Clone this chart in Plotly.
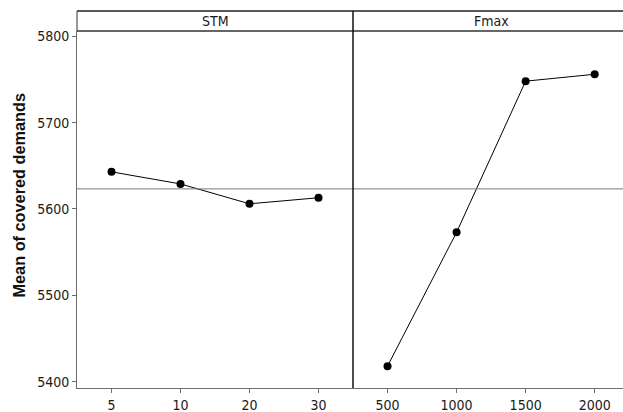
import plotly.graph_objects as go

# Data
stm_levels = ["5", "10", "20", "30"]
stm_means = [5643, 5629, 5606, 5613]
fmax_levels = ["500", "1000", "1500", "2000"]
fmax_means = [5418, 5573, 5748, 5756]
panel_titles = ["STM", "Fmax"]
y_ticks = [5400, 5500, 5600, 5700, 5800]
y_title = "Mean of covered demands"

grand_mean = (sum(stm_means) + sum(fmax_means)) / (len(stm_means) + len(fmax_means))

W, H = 623, 412
ml, mr, mt, mb = 77, 0, 11, 24
plot_w = W - ml - mr
plot_h = H - mt - mb
strip_h = 20
ydom_top = (plot_h - strip_h) / plot_h
split = 276 / plot_w

tick_font = dict(family="DejaVu Sans Condensed, DejaVu Sans", size=14, color="#1a1a1a")
axis_col = "#6e6e6e"

fig = go.Figure()
fig.add_trace(go.Scatter(x=stm_levels, y=stm_means, xaxis="x", yaxis="y",
                         mode="lines+markers",
                         line=dict(color="black", width=1),
                         marker=dict(color="black", size=8),
                         showlegend=False))
fig.add_trace(go.Scatter(x=fmax_levels, y=fmax_means, xaxis="x2", yaxis="y",
                         mode="lines+markers",
                         line=dict(color="black", width=1),
                         marker=dict(color="black", size=8),
                         showlegend=False))

common_x = dict(type="category", showgrid=False, zeroline=False,
                showline=True, linecolor=axis_col, linewidth=1,
                ticks="outside", ticklen=4, tickcolor=axis_col,
                tickfont=tick_font, anchor="y", automargin=False)

fig.update_layout(
    width=W, height=H,
    margin=dict(l=ml, r=mr, t=mt, b=mb, autoexpand=False),
    paper_bgcolor="white", plot_bgcolor="white",
    xaxis=dict(domain=[0, split], range=[-0.5, 3.5], **common_x),
    xaxis2=dict(domain=[split, 1], range=[-0.5, 3.41], **common_x),
    yaxis=dict(domain=[0, ydom_top], range=[5392.7, 5806.1],
               tickvals=y_ticks, showgrid=False, zeroline=False,
               showline=True, linecolor=axis_col, linewidth=1,
               ticks="outside", ticklen=4, tickcolor=axis_col,
               tickfont=tick_font, automargin=False),
)

shapes = []
# grand mean reference line across both panels
shapes.append(dict(type="line", xref="paper", yref="y", x0=0, x1=1,
                   y0=grand_mean, y1=grand_mean,
                   line=dict(color="#7a7a7a", width=1)))
# strip header box
shapes.append(dict(type="line", xref="paper", yref="paper", x0=0, x1=1.02,
                   y0=1, y1=1, line=dict(color="#222222", width=1.5)))
shapes.append(dict(type="line", xref="paper", yref="paper", x0=0, x1=1.02,
                   y0=ydom_top, y1=ydom_top, line=dict(color="#333333", width=1.5)))
shapes.append(dict(type="line", xref="paper", yref="paper", x0=0, x1=0,
                   y0=ydom_top, y1=1, line=dict(color="#333333", width=1)))
# panel divider
shapes.append(dict(type="line", xref="paper", yref="paper", x0=split, x1=split,
                   y0=0, y1=1, line=dict(color="#111111", width=1.5)))
fig.update_layout(shapes=shapes)

strip_y = (ydom_top + 1) / 2
fig.add_annotation(text=panel_titles[0], xref="x", yref="paper", x=1.5, y=strip_y,
                   showarrow=False, font=tick_font, yanchor="middle")
fig.add_annotation(text=panel_titles[1], xref="x2", yref="paper", x=1.5, y=strip_y,
                   showarrow=False, font=tick_font, yanchor="middle")

# y-axis title
fig.add_annotation(text="<b>" + y_title + "</b>", xref="paper", yref="paper",
                   x=(18 - ml) / plot_w, y=(plot_h - (195.5 - mt)) / plot_h,
                   xanchor="center", yanchor="middle", textangle=-90,
                   showarrow=False,
                   font=dict(family="Liberation Sans", size=16.3, color="#111111"))

fig.write_html("out.html",
               config={"displayModeBar": False},
               post_script="document.body.style.margin='0';document.body.style.overflow='hidden';")
